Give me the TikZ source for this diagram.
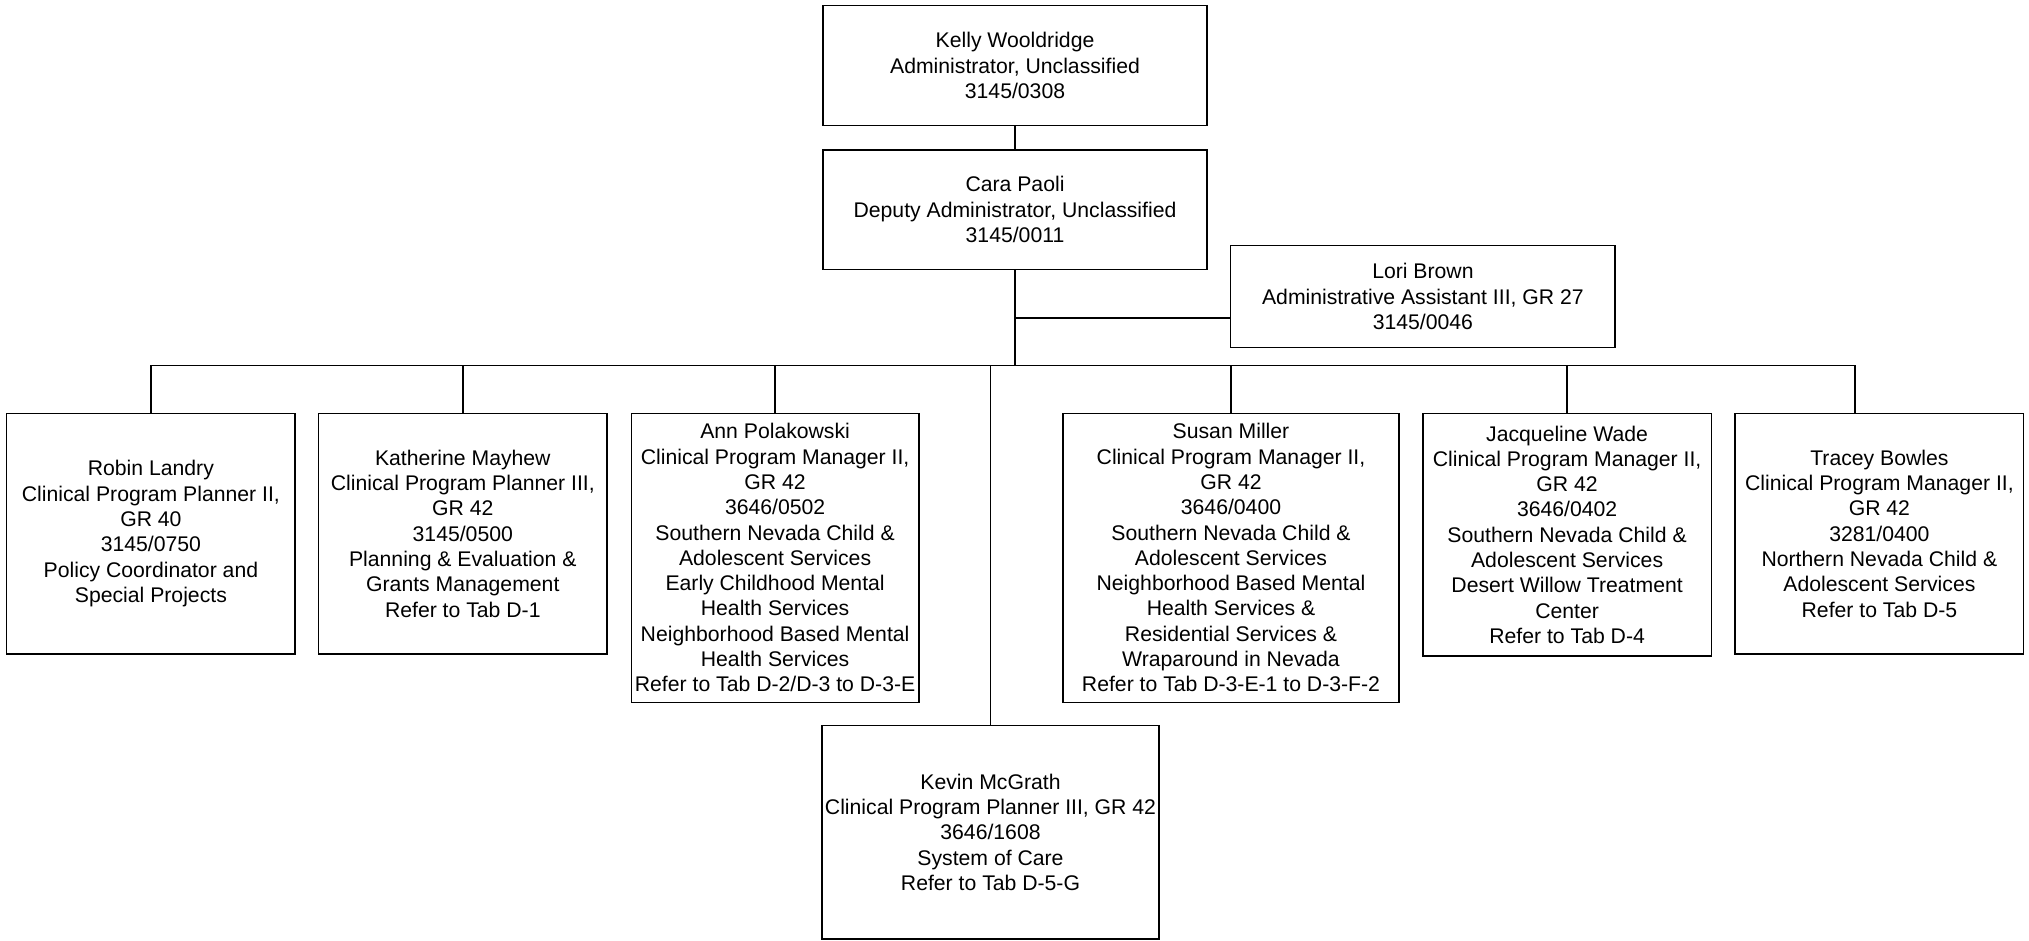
\documentclass[tikz,border=0pt]{standalone}
\usepackage{fontspec}
\setmainfont{Liberation Sans}
\begin{document}
\begin{tikzpicture}[x=0.5pt,y=-0.5pt,
  post/.style 2 args={draw,line width=0.7pt,inner sep=0pt,align=center,
    minimum width=#1*0.5pt,minimum height=#2*0.5pt,
    font=\fontsize{10.6}{12.65}\selectfont},
  every path/.style={line width=0.7pt}]
\useasboundingbox (0,0) rectangle (2029,941);
\node[post={384.3}{120}] (v1) at (1015,65.7) {Kelly Wooldridge\\Administrator, Unclassified\\3145/0308};
\node[post={384.3}{119.3}] (v2) at (1015,209.7) {Cara Paoli\\Deputy Administrator, Unclassified\\3145/0011};
\node[post={384.3}{101.6}] (v3) at (1422.9,296.5) {Lori Brown\\Administrative Assistant III, GR 27\\3145/0046};

\node[post={288.3}{240.7}] (v4) at (150.9,533.7) {Robin Landry\\Clinical Program Planner II,\\GR 40\\3145/0750\\Policy Coordinator and\\Special Projects};
\node[post={288.4}{240.7}] (v5) at (462.8,533.7) {Katherine Mayhew\\Clinical Program Planner III,\\GR 42\\3145/0500\\Planning \& Evaluation \&\\Grants Management\\Refer to Tab D-1};
\node[post={287.8}{289}] (v6) at (775.1,557.8) {Ann Polakowski\\Clinical Program Manager II,\\GR 42\\3646/0502\\Southern Nevada Child \&\\Adolescent Services\\Early Childhood Mental\\Health Services\\Neighborhood Based Mental\\Health Services\\Refer to Tab D-2/D-3 to D-3-E};
\node[post={336.1}{289}] (v7) at (1231,557.8) {Susan Miller\\Clinical Program Manager II,\\GR 42\\3646/0400\\Southern Nevada Child \&\\Adolescent Services\\Neighborhood Based Mental\\Health Services \&\\Residential Services \&\\Wraparound in Nevada\\Refer to Tab D-3-E-1 to D-3-F-2};
\node[post={288.4}{242.7}] (v8) at (1567.1,534.7) {Jacqueline Wade\\Clinical Program Manager II,\\GR 42\\3646/0402\\Southern Nevada Child \&\\Adolescent Services\\Desert Willow Treatment\\Center\\Refer to Tab D-4};
\node[post={288.7}{240.7}] (v9) at (1879.4,533.7) {Tracey Bowles\\Clinical Program Manager II,\\GR 42\\3281/0400\\Northern Nevada Child \&\\Adolescent Services\\Refer to Tab D-5};
\node[post={337}{213.3}] (v10) at (990.5,832.4) {Kevin McGrath\\Clinical Program Planner III, GR 42\\3646/1608\\System of Care\\Refer to Tab D-5-G};

\coordinate (b) at (1015,365.7);
\coordinate (a) at (1015,318);
\coordinate (t) at (1855,413.3);
\draw (v1) -- (v2);
\draw (v2.south) -- (b);
\draw (a) -- (a -| v3.west);
\draw (v4.north) -- (v4.north |- b) -- (t |- b) -- (t);
\draw (v5.north) -- (v5.north |- b);
\draw (v6.north) -- (v6.north |- b);
\draw (v7.north) -- (v7.north |- b);
\draw (v8.north) -- (v8.north |- b);
\draw (v10.north) -- (v10.north |- b);
\end{tikzpicture}
\end{document}
